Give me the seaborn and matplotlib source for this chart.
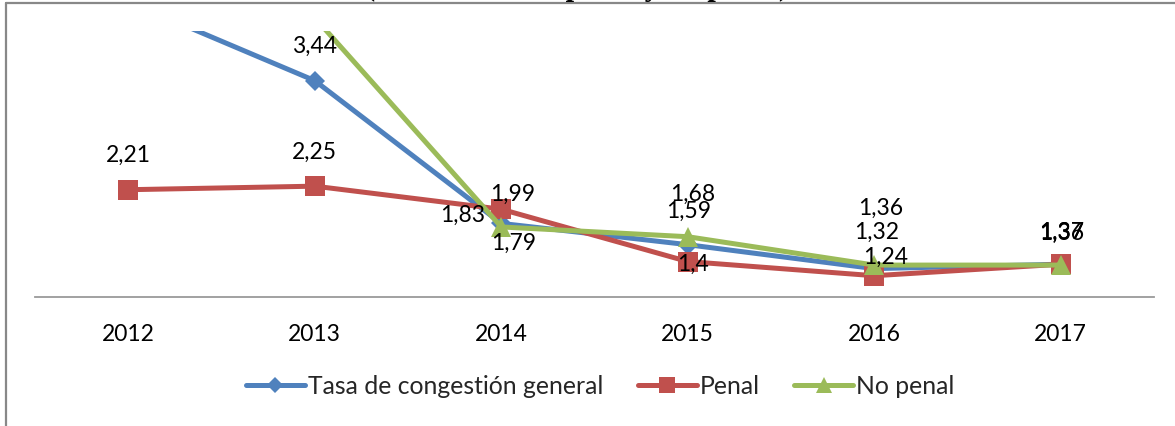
import matplotlib
matplotlib.use("Agg")
import matplotlib.pyplot as plt
import seaborn as sns
import numpy as np
from matplotlib.lines import Line2D

# ---- data ----
years = ["2012", "2013", "2014", "2015", "2016", "2017"]
general = [4.33, 3.44, 1.83, 1.59, 1.32, 1.37]
penal = [2.21, 2.25, 1.99, 1.40, 1.24, 1.37]
no_penal = [4.50, 4.15, 1.79, 1.68, 1.36, 1.36]
series_names = ["Tasa de congestión general", "Penal", "No penal"]

sns.set_theme(style="white")
plt.rcParams["font.family"] = ["Lato", "DejaVu Sans"]

W, H = 1175, 427
fig = plt.figure(figsize=(W / 100, H / 100), dpi=100)
ax = fig.add_axes([35 / W, 1 - 298 / H, (1154 - 35) / W, (298 - 32) / H])

xpos = np.arange(len(years))
colors = ["#4F81BD", "#C0504D", "#9BBB59"]
markers = ["D", "s", "^"]
msizes = [10, 15, 14.5]
allvals = [general, penal, no_penal]

for vals, name, c, m, ms in zip(allvals, series_names, colors, markers, msizes):
    sns.lineplot(x=xpos, y=vals, ax=ax, color=c, marker=m, markersize=ms,
                 markeredgewidth=0, linewidth=3.6, label=name, sort=False)

ax.set_xlim(-0.5, len(years) - 0.5)
ax.set_ylim(1, 4)
ax.set_xticks(xpos)
ax.set_xticklabels(years)
ax.set_yticks([])
ax.tick_params(axis="x", length=0, pad=19, labelsize=16.5, colors="black")
for s in ["top", "left", "right"]:
    ax.spines[s].set_visible(False)
ax.spines["bottom"].set_color("#9a9a9a")
ax.spines["bottom"].set_linewidth(1.3)
ax.set_xlabel("")
ax.set_ylabel("")
ax.patch.set_alpha(0)

# data labels: (series index, point index, dx, dy) offsets in pixels
offsets = [
    (1, 0, 0, -35), (1, 1, 0, -35), (0, 1, 0, -35),
    (1, 2, 11, -16), (0, 2, -39, -9), (2, 2, 12, 15),
    (2, 3, 5, -43), (0, 3, 1, -34), (1, 3, 5, 2),
    (2, 4, 6, -58), (0, 4, 2, -37), (1, 4, 11, -19),
    (0, 5, 1, -33), (1, 5, 1, -33), (2, 5, 1, -33),
]
for si, pi, dx, dy in offsets:
    v = allvals[si][pi]
    txt = f"{v:.2f}".rstrip("0").rstrip(".").replace(".", ",")
    ax.annotate(txt, (xpos[pi], v), xytext=(dx, -dy), textcoords="offset pixels",
                ha="center", va="center", fontsize=16.5, color="black",
                annotation_clip=False)

if ax.get_legend():
    ax.get_legend().remove()
handles, labels = ax.get_legend_handles_labels()
fig.legend(handles, labels, loc="center", bbox_to_anchor=(600 / W, 1 - 387 / H),
           ncol=3, frameon=False, fontsize=17.8, handlelength=2.4,
           handletextpad=0.1, columnspacing=1.4, markerscale=0.8)

# outer chart frame (left and top edges visible in the crop)
fig.add_artist(Line2D([5.5 / W, 5.5 / W], [0, 1 - 4 / H], transform=fig.transFigure,
                      color="#888888", linewidth=1.6))
fig.add_artist(Line2D([5.5 / W, 1], [1 - 4 / H, 1 - 4 / H], transform=fig.transFigure,
                      color="#888888", linewidth=1.6))

# remnant of a heading cut off above the crop
fig.text(365 / W, 1 + 5.5 / H, "(Tasas, en área penal y no penal)", ha="left",
         va="baseline", fontsize=22, fontweight="bold", family="Liberation Serif",
         color="black")

fig.savefig("out.png", dpi=100)
